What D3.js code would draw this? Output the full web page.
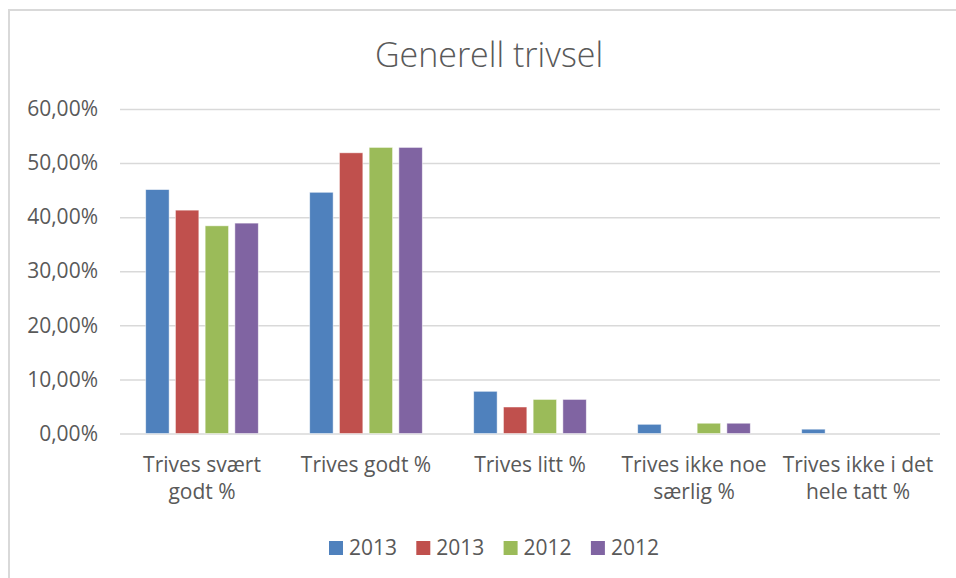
<!DOCTYPE html>
<html>
<head>
<meta charset="utf-8">
<script src="https://cdn.jsdelivr.net/npm/d3@7"></script>
<style>
  html, body { margin: 0; padding: 0; background: #fff; }
  svg { display: block; font-family: "Open Sans", Lato, sans-serif; }
  .tick text { fill: #595959; }
</style>
</head>
<body>
<svg id="chart" width="956" height="578"></svg>
<script>
// data
const categories = [
  "Trives svært godt %",
  "Trives godt %",
  "Trives litt %",
  "Trives ikke noe særlig %",
  "Trives ikke i det hele tatt %"
];
const categoryLines = [
  ["Trives svært", "godt %"],
  ["Trives godt %"],
  ["Trives litt %"],
  ["Trives ikke noe", "særlig %"],
  ["Trives ikke i det", "hele tatt %"]
];
const seriesNames = ["2013", "2013", "2012", "2012"];
const seriesColors = ["#4f81bd", "#c0504d", "#9bbb59", "#8064a2"];
const values = [
  [0.451, 0.446, 0.078, 0.017, 0.008],
  [0.413, 0.519, 0.049, 0.000, 0.000],
  [0.384, 0.529, 0.063, 0.019, 0.000],
  [0.389, 0.529, 0.063, 0.019, 0.000]
];
const yTicks = [0, 0.1, 0.2, 0.3, 0.4, 0.5, 0.6];

const svg = d3.select("#chart");
const W = 956, H = 578;
const plot = { left: 120, right: 940, top: 109, bottom: 433.5 };
const labelSize = 21;

// chart border (runs off the right/bottom of the picture)
svg.append("rect")
  .attr("x", 9).attr("y", 10)
  .attr("width", W + 20).attr("height", H + 20)
  .attr("fill", "#fff")
  .attr("stroke", "#d9d9d9").attr("stroke-width", 2);

svg.append("text")
  .attr("x", 489).attr("y", 67)
  .attr("text-anchor", "middle")
  .attr("fill", "#595959")
  .attr("font-size", 34)
  .attr("font-weight", 300)
  .text("Generell trivsel");

const x0 = d3.scaleBand()
  .domain(d3.range(categories.length))
  .range([plot.left, plot.right]);

const x1 = d3.scaleBand()
  .domain(d3.range(seriesNames.length))
  .range([-56.3, 56.3])
  .paddingInner(0.212);

const y = d3.scaleLinear()
  .domain([0, 0.6])
  .range([plot.bottom, plot.top]);

const fmt = v => d3.format(".2f")(v * 100).replace(".", ",") + "%";

// gridlines + y labels
const yAxis = svg.append("g")
  .attr("transform", `translate(${plot.left},0)`)
  .call(d3.axisLeft(y).tickValues(yTicks).tickFormat(fmt)
    .tickSize(-(plot.right - plot.left)).tickPadding(22));
yAxis.select(".domain").remove();
yAxis.selectAll(".tick line")
  .attr("stroke", "#d9d9d9").attr("stroke-width", 1.5);
yAxis.selectAll(".tick text")
  .attr("font-size", labelSize)
  .attr("font-family", "'Open Sans', sans-serif");

// bars
const groups = svg.append("g").selectAll("g")
  .data(categories)
  .join("g")
  .attr("transform", (d, i) => `translate(${x0(i) + x0.bandwidth() / 2},0)`);

groups.selectAll("rect")
  .data((d, ci) => values.map((s, si) => ({ si, v: s[ci] })))
  .join("rect")
  .filter(d => d.v > 0)
  .attr("x", d => x1(d.si))
  .attr("width", x1.bandwidth())
  .attr("y", d => y(d.v))
  .attr("height", d => y(0) - y(d.v))
  .attr("fill", d => seriesColors[d.si])
  .attr("stroke", "#fff")
  .attr("stroke-opacity", 0.6)
  .attr("stroke-width", 0.8);

// x category labels
groups.append("text")
  .attr("text-anchor", "middle")
  .attr("fill", "#595959")
  .attr("font-size", labelSize)
  .selectAll("tspan")
  .data((d, i) => categoryLines[i])
  .join("tspan")
  .attr("x", 0)
  .attr("y", (d, i) => 472 + i * 27)
  .text(d => d);

// legend
const legend = svg.append("g")
  .selectAll("g")
  .data(seriesNames)
  .join("g")
  .attr("transform", (d, i) => `translate(${329 + i * 87.3},0)`);
legend.append("rect")
  .attr("y", 541).attr("width", 14).attr("height", 14)
  .attr("fill", (d, i) => seriesColors[i]);
legend.append("text")
  .attr("x", 20).attr("y", 555)
  .attr("fill", "#595959")
  .attr("font-size", labelSize)
  .text(d => d);
</script>
</body>
</html>
